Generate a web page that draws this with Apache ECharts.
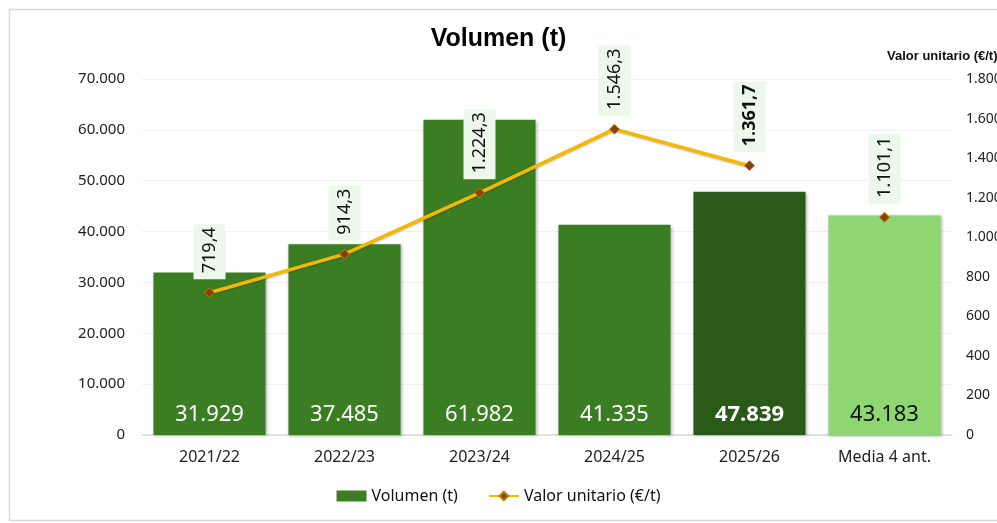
<!DOCTYPE html>
<html lang="es">
<head>
<meta charset="UTF-8">
<script src="https://cdn.jsdelivr.net/npm/echarts@6/dist/echarts.min.js"></script>
<title>Volumen (t)</title>
<style>
    *{ margin: 0; padding: 0; }
    body{ background: #ffffff; }
    #chart{ width: 997px; height: 523px; }
</style>
</head>
<body>
<div id="chart"></div>
<script>
    // datos
    var campanas = ['2021/22', '2022/23', '2023/24', '2024/25', '2025/26', 'Media 4 ant.'];
    var volumen = [31929, 37485, 61982, 41335, 47839, 43183];
    // la línea une las campañas; la media va como punto suelto
    var valorUnitario = [719.4, 914.3, 1224.3, 1546.3, 1361.7, '-'];
    var valorMedia = ['-', '-', '-', '-', '-', 1101.1];

    var verde = '#3b7d23', verdeOscuro = '#2a5a19', verdeClaro = '#8ed672';
    var nombreLinea = 'Valor unitario (€/t)';

    // formato español: miles con punto, decimales con coma
    function fmtMiles(v) {
        return String(Math.round(v)).replace(/\B(?=(\d{3})+(?!\d))/g, '.');
    }
    function fmtDec(v) {
        var p = v.toFixed(1).split('.');
        return fmtMiles(+p[0]) + ',' + p[1];
    }

    var barData = volumen.map(function (v, i) {
        var item = { value: v };
        if (i === 4) {
            item.itemStyle = { color: verdeOscuro };
            item.label = { fontWeight: 'bold' };
        }
        if (i === 5) {
            item.itemStyle = { color: verdeClaro };
            item.label = { color: '#111' };
        }
        return item;
    });

    var lineData = valorUnitario.map(function (v, i) {
        var item = { value: v };
        if (i === 4) item.label = { fontWeight: 'bold' };
        return item;
    });

    var lineLabel = {
        show: true,
        position: 'top',
        rotate: 90,
        align: 'left',
        verticalAlign: 'middle',
        distance: 8,
        fontSize: 18,
        color: '#111',
        fontFamily: 'Noto Sans',
        backgroundColor: '#edf8ec',
        padding: [7, 3, 7, 6],
        formatter: function (p) { return fmtDec(p.value); }
    };
    var lineStyle = {
        color: '#f5b800', width: 3.5,
        shadowBlur: 2, shadowOffsetY: 1, shadowColor: 'rgba(0,0,0,0.25)'
    };
    var puntoStyle = { color: '#8b3f10', borderColor: '#b8860b', borderWidth: 1 };

    var chart = echarts.init(document.getElementById('chart'));
    var option = {
        backgroundColor: '#ffffff',
        animation: false,
        graphic: [{
            type: 'rect',
            shape: { x: 9.5, y: 9.5, width: 1000, height: 511 },
            style: { fill: 'none', stroke: '#d9d9d9', lineWidth: 1.5 },
            silent: true
        }],
        title: {
            text: 'Volumen (t)',
            left: 'center',
            top: 22,
            textStyle: { fontSize: 25, fontWeight: 'bold', color: '#000', fontFamily: 'Liberation Sans' }
        },
        legend: {
            bottom: 14,
            left: 'center',
            itemGap: 30,
            itemWidth: 30,
            itemHeight: 11,
            textStyle: { fontSize: 16, color: '#111', fontFamily: 'Noto Sans' },
            data: [
                { name: 'Volumen (t)', icon: 'rect' },
                { name: nombreLinea }
            ]
        },
        grid: { left: 142, right: 45, top: 79, bottom: 88, outerBoundsMode: 'none' },
        xAxis: {
            type: 'category',
            data: campanas,
            axisTick: { show: false },
            axisLine: { lineStyle: { color: '#d9d9d9', width: 1.5 } },
            axisLabel: { fontSize: 16, color: '#222', margin: 14, fontFamily: 'Noto Sans' }
        },
        yAxis: [{
            type: 'value',
            min: 0,
            max: 70000,
            interval: 10000,
            axisLine: { show: false },
            axisTick: { show: false },
            splitLine: { lineStyle: { color: '#f0f0f0' } },
            axisLabel: {
                fontSize: 15, color: '#222', margin: 17, fontFamily: 'Noto Sans',
                formatter: fmtMiles
            }
        }, {
            type: 'value',
            min: 0,
            max: 1800,
            interval: 200,
            name: nombreLinea,
            nameLocation: 'end',
            nameGap: 16,
            nameTextStyle: {
                fontSize: 13, fontWeight: 'bold', color: '#111', align: 'left',
                padding: [0, 0, 0, -65], fontFamily: 'Liberation Sans'
            },
            axisLine: { show: false },
            axisTick: { show: false },
            splitLine: { show: false },
            axisLabel: {
                fontSize: 14, color: '#222', margin: 14, fontFamily: 'Noto Sans',
                formatter: fmtMiles
            }
        }],
        series: [{
            name: 'Volumen (t)',
            type: 'bar',
            data: barData,
            barCategoryGap: '17%',
            itemStyle: {
                color: verde,
                shadowBlur: 3,
                shadowOffsetX: 1,
                shadowOffsetY: 1,
                shadowColor: 'rgba(0,0,0,0.3)'
            },
            label: {
                show: true,
                position: 'insideBottom',
                distance: 9,
                fontSize: 22,
                color: '#fff',
                fontFamily: 'Noto Sans',
                formatter: function (p) { return fmtMiles(p.value); }
            }
        }, {
            name: nombreLinea,
            type: 'line',
            yAxisIndex: 1,
            data: lineData,
            symbol: 'diamond',
            symbolSize: 10,
            lineStyle: lineStyle,
            itemStyle: puntoStyle,
            label: lineLabel
        }, {
            name: nombreLinea,
            type: 'line',
            yAxisIndex: 1,
            data: valorMedia,
            symbol: 'diamond',
            symbolSize: 10,
            lineStyle: lineStyle,
            itemStyle: puntoStyle,
            label: lineLabel
        }]
    };
    chart.setOption(option);
</script>
</body>
</html>
